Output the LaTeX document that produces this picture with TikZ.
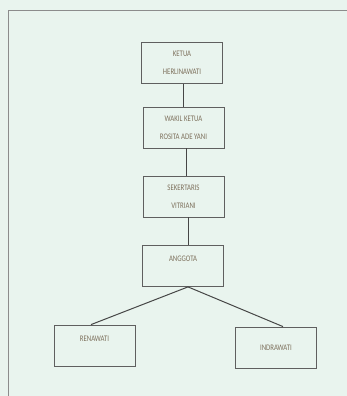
\documentclass[tikz,border=0pt]{standalone}
\usepackage{fontspec}
\setmainfont{Carlito}[FakeStretch=0.8]
\usetikzlibrary{positioning}

\definecolor{bgmint}{RGB}{233,244,238}
\definecolor{boxline}{RGB}{95,95,95}
\definecolor{linkline}{RGB}{70,70,70}
\definecolor{labeltext}{RGB}{125,112,92}
\definecolor{frameline}{RGB}{140,140,140}

\tikzset{
  jabatan/.style={draw=boxline, line width=0.8pt, minimum width=81pt,
    minimum height=41pt, inner sep=0pt, align=center,
    font=\fontsize{8.5}{9}\selectfont, text=labeltext},
  garis/.style={draw=linkline, line width=1pt}
}

\begin{document}
\begin{tikzpicture}[x=1pt,y=-1pt]

% latar dan bingkai
\fill[bgmint] (0,0) rectangle (347,396);
\useasboundingbox (0,0) rectangle (347,396);
\draw[frameline, line width=0.6pt] (8,396) -- (8,10) -- (347,10);

% kotak jabatan
\node[jabatan] (ketua) at (182,63) {KETUA\\[9pt]HERLINAWATI};
\node[jabatan] (wakil) at (183.5,127.5) {WAKIL KETUA\\[9pt]ROSITA ADE YANI};
\node[jabatan] (sek) at (183.5,196.5) {SEKERTARIS\\[9pt]VITRIANI};
\node[jabatan] (ang) at (183,266) {ANGGOTA\\[5pt]};
\node[jabatan] (ren) at (94.5,345.5) {RENAWATI\\[4pt]};
\node[jabatan] (ind) at (276,347.5) {INDRAWATI};

% garis penghubung
\draw[garis] ([xshift=1pt]ketua.south) -- ([xshift=1pt]ketua.south |- wakil.north);
\draw[garis] ([xshift=2.5pt]wakil.south) -- ([xshift=2.5pt]wakil.south |- sek.north);
\draw[garis] ([xshift=4.5pt]sek.south) -- ([xshift=4.5pt]sek.south |- ang.north);
\draw[garis] ([xshift=5pt]ang.south) -- ([xshift=-3.5pt]ren.north);
\draw[garis] ([xshift=5pt]ang.south) -- ([xshift=7pt]ind.north);

\end{tikzpicture}
\end{document}
